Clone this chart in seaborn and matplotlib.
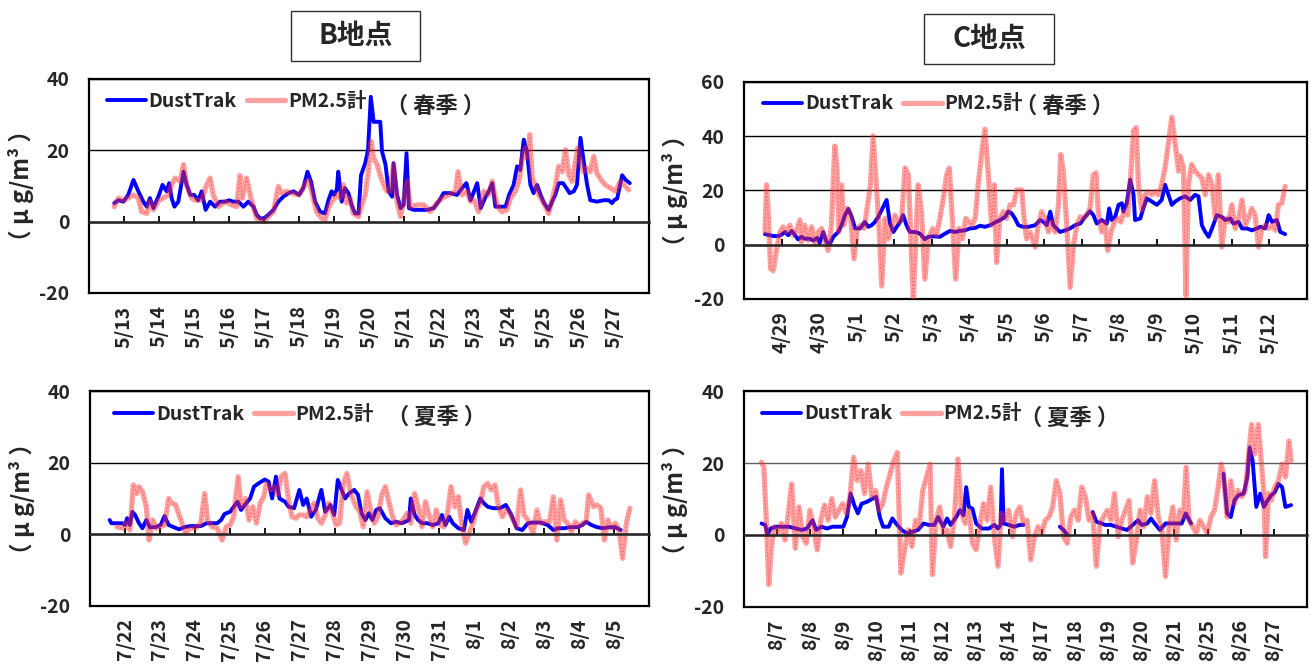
import numpy as np
import pandas as pd
import matplotlib
matplotlib.use("Agg")
import matplotlib.pyplot as plt
from matplotlib.lines import Line2D
from matplotlib.patches import Rectangle
import seaborn as sns

sns.set_theme(style="white")
plt.rcParams["font.family"] = ["Noto Sans CJK JP", "DejaVu Sans"]
plt.rcParams["axes.unicode_minus"] = False

# ---- day labels (category positions 0..n-1) ----
b_spring_days = ["5/13", "5/14", "5/15", "5/16", "5/17", "5/18", "5/19", "5/20",
                 "5/21", "5/22", "5/23", "5/24", "5/25", "5/26", "5/27"]
c_spring_days = ["4/29", "4/30", "5/1", "5/2", "5/3", "5/4", "5/5", "5/6",
                 "5/7", "5/8", "5/9", "5/10", "5/11", "5/12"]
b_summer_days = ["7/22", "7/23", "7/24", "7/25", "7/26", "7/27", "7/28", "7/29",
                 "7/30", "7/31", "8/1", "8/2", "8/3", "8/4", "8/5"]
c_summer_days = ["8/7", "8/8", "8/9", "8/10", "8/11", "8/12", "8/13", "8/14",
                 "8/17", "8/18", "8/19", "8/20", "8/21", "8/25", "8/26", "8/27"]

# ---- readings: (day position, µg/m3); None marks a gap in the record ----
b_spring_dust = [
    (-0.28, 5.2), (-0.16, 6), (-0.02, 5.6), (0.12, 7.5), (0.27, 11.7), (0.41, 8.5), (0.55, 5.6),
    (0.65, 4.2), (0.74, 6.6), (0.84, 3.8), (1.00, 7.5), (1.10, 10.3), (1.22, 8.5), (1.29, 10.8),
    (1.36, 6.6), (1.44, 4.2), (1.55, 5.6), (1.70, 14), (1.79, 10.3), (1.89, 7.5), (2.00, 7.5),
    (2.12, 6), (2.22, 8.5), (2.33, 3.3), (2.46, 5.6), (2.60, 4.2), (2.74, 5.6), (2.89, 5.6),
    (3.00, 6), (3.12, 5.6), (3.27, 5.6), (3.41, 4.2), (3.55, 5.6), (3.70, 4.2), (3.79, 1.9),
    (3.89, 0.9), (4.00, 0.9), (4.12, 1.9), (4.27, 3.3), (4.41, 5.6), (4.55, 7), (4.70, 8),
    (4.84, 8.5), (5.00, 7.5), (5.12, 9.4), (5.24, 14), (5.34, 11.3), (5.46, 5.6), (5.60, 2.8),
    (5.74, 2.3), (5.84, 6), (5.93, 8.5), (6.00, 7.5), (6.08, 9), (6.12, 14), (6.22, 5.6),
    (6.31, 9.4), (6.41, 8), (6.50, 4.7), (6.60, 2.3), (6.70, 2.3), (6.77, 13), (6.89, 16.4),
    (6.97, 20), (7.05, 35), (7.13, 28), (7.32, 28), (7.37, 19.7), (7.47, 16), (7.56, 8.5),
    (7.66, 7), (7.70, 16.4), (7.80, 7.5), (7.90, 3.8), (7.99, 4.7), (8.07, 19.2), (8.14, 3.8),
    (8.28, 3.3), (8.47, 3.3), (8.66, 3.3), (8.85, 3.8), (9.01, 6), (9.13, 8), (9.32, 8),
    (9.51, 7.5), (9.66, 9.4), (9.78, 10.8), (9.90, 6), (10.00, 8.5), (10.09, 10.8), (10.19, 3.8),
    (10.33, 7), (10.42, 8.5), (10.52, 10.8), (10.61, 4.2), (10.75, 4.2), (10.90, 4.2), (11.00, 7.5),
    (11.13, 10.3), (11.23, 15.5), (11.32, 14.5), (11.42, 23), (11.51, 19.7), (11.61, 10.3),
    (11.70, 8), (11.80, 10.3), (11.90, 7.5), (12.00, 5.2), (12.13, 3.3), (12.23, 5.6), (12.32, 7.5),
    (12.42, 10.8), (12.54, 10.8), (12.64, 9.4), (12.73, 8), (12.85, 8.5), (12.94, 10.3),
    (13.04, 23.5), (13.13, 17), (13.23, 10.3), (13.32, 6), (13.51, 5.6), (13.70, 6), (13.85, 6),
    (13.94, 5.2), (14.00, 6), (14.09, 6.5), (14.23, 13), (14.33, 11.7), (14.45, 10.8),
]
b_spring_pm = [
    (-0.28, 4.2), (-0.16, 6.6), (-0.02, 6), (0.12, 6.6), (0.27, 7.5), (0.41, 6.6), (0.50, 2.8),
    (0.65, 2.3), (0.74, 5.6), (0.84, 3.3), (1.00, 6), (1.12, 6.6), (1.27, 7.5), (1.36, 10.3),
    (1.46, 12.2), (1.60, 11.3), (1.70, 16), (1.79, 10.3), (1.93, 6.6), (2.03, 6), (2.22, 6),
    (2.36, 10.3), (2.46, 12.2), (2.55, 7.5), (2.70, 4.2), (2.89, 5.6), (3.08, 4.7), (3.22, 4.2),
    (3.31, 13), (3.38, 6.6), (3.50, 12.2), (3.65, 5.6), (3.79, 0.9), (3.89, 0.5), (4.00, 0),
    (4.12, 1.4), (4.27, 2.8), (4.41, 9.9), (4.50, 8), (4.65, 8.5), (4.79, 8), (5.00, 7.5),
    (5.17, 10.3), (5.27, 11.7), (5.36, 8.5), (5.50, 2.8), (5.65, 0.9), (5.74, 0.5), (5.84, 3.8),
    (5.93, 5.6), (6.08, 7.5), (6.17, 6.6), (6.27, 10.3), (6.36, 5.2), (6.46, 6.6), (6.55, 2.3),
    (6.70, 1.4), (6.79, 4.7), (6.89, 7.5), (6.98, 14), (7.06, 22.5), (7.13, 17.8), (7.23, 16),
    (7.32, 13), (7.42, 10.3), (7.51, 8.5), (7.60, 8.5), (7.70, 16), (7.80, 5.6), (7.90, 1.4),
    (7.99, 6), (8.09, 11.3), (8.18, 4.2), (8.37, 4.7), (8.56, 4.7), (8.75, 2.8), (8.94, 5.2),
    (9.09, 6.6), (9.28, 7.5), (9.47, 8.5), (9.54, 14), (9.66, 7.5), (9.80, 8.5), (9.90, 5.6),
    (10.00, 6), (10.13, 2.8), (10.28, 8.5), (10.42, 7.5), (10.52, 11.3), (10.61, 6.6), (10.70, 3.8),
    (10.80, 2.8), (10.94, 3.3), (11.04, 6.6), (11.18, 8.5), (11.28, 11.3), (11.37, 17), (11.47, 20.7),
    (11.51, 17.8), (11.59, 24.4), (11.66, 12.2), (11.75, 10.3), (11.85, 7.5), (11.99, 5.2),
    (12.13, 2.3), (12.23, 6), (12.33, 10.3), (12.42, 15.5), (12.52, 14), (12.61, 20.2), (12.71, 13),
    (12.80, 11.3), (12.90, 17), (12.96, 20.7), (13.04, 17), (13.13, 14), (13.23, 15), (13.32, 14),
    (13.42, 18.3), (13.51, 13.6), (13.66, 11.3), (13.75, 10.3), (13.90, 9.4), (14.04, 8.5),
    (14.18, 11.3), (14.28, 10.3), (14.42, 8.9),
]

c_spring_dust = [
    (-0.44, 3.9), (-0.31, 3.5), (-0.22, 3.2), (-0.09, 3.2), (0.00, 3.7), (0.09, 4.7), (0.18, 3.5),
    (0.27, 5.1), (0.36, 3.5), (0.44, 2.0), (0.53, 2.9), (0.62, 2.2), (0.76, 2.2), (0.84, 1.6),
    (0.95, 2.5), (1.02, 0.7), (1.11, 4.7), (1.20, 1.0), (1.29, 0.4), (1.38, 2.9), (1.51, 4.7),
    (1.60, 7.2), (1.69, 10.9), (1.78, 13.2), (1.87, 10.3), (1.96, 6.0), (2.09, 6.0), (2.22, 8.4),
    (2.31, 6.6), (2.40, 7.2), (2.49, 8.4), (2.58, 10.3), (2.67, 12.8), (2.76, 15.3), (2.80, 16.5),
    (2.89, 7.8), (2.98, 4.7), (3.07, 6.6), (3.16, 8.4), (3.24, 10.9), (3.33, 7.2), (3.42, 4.7),
    (3.56, 4.7), (3.69, 4.1), (3.82, 2.0), (3.91, 2.9), (4.04, 3.1), (4.22, 2.9), (4.36, 4.1),
    (4.49, 5.1), (4.62, 4.7), (4.76, 5.1), (4.89, 5.3), (5.02, 6.0), (5.16, 6.2), (5.29, 7.0),
    (5.42, 6.6), (5.56, 7.2), (5.69, 8.2), (5.82, 9.1), (5.96, 10.3), (6.04, 12.2), (6.13, 11.6),
    (6.22, 9.7), (6.31, 7.2), (6.44, 6.6), (6.58, 6.6), (6.76, 7.2), (6.89, 9.1), (6.98, 8.4),
    (7.07, 7.2), (7.16, 12.2), (7.24, 7.2), (7.33, 6.0), (7.42, 4.7), (7.56, 5.3), (7.69, 6.0),
    (7.82, 7.2), (7.96, 7.8), (8.09, 10.3), (8.22, 12.4), (8.31, 10.9), (8.40, 7.8), (8.53, 9.1),
    (8.67, 7.8), (8.73, 13.4), (8.80, 9.1), (8.89, 10.3), (8.98, 14.7), (9.07, 15.3), (9.11, 12.2),
    (9.20, 15.3), (9.29, 24.0), (9.38, 18.4), (9.42, 9.1), (9.56, 9.7), (9.64, 13.4), (9.73, 17.1),
    (9.87, 15.9), (10.00, 14.7), (10.13, 16.5), (10.22, 22.1), (10.31, 18.4), (10.40, 14.7),
    (10.49, 15.9), (10.62, 17.1), (10.76, 17.8), (10.89, 16.5), (11.02, 18.4), (11.11, 17.8),
    (11.20, 7.2), (11.29, 4.7), (11.38, 2.9), (11.47, 6.0), (11.60, 10.9), (11.73, 10.3),
    (11.82, 9.1), (11.96, 9.7), (12.04, 7.8), (12.18, 8.4), (12.27, 6.0), (12.40, 6.0), (12.53, 5.3),
    (12.67, 6.0), (12.76, 6.6), (12.89, 6.0), (12.98, 10.9), (13.07, 8.4), (13.20, 9.1),
    (13.29, 4.7), (13.42, 3.9),
]
c_spring_pm = [
    (-0.44, 4.7), (-0.40, 22.1), (-0.36, 13.4), (-0.29, -8.9), (-0.22, -9.6), (-0.13, -1.5),
    (-0.04, 4.7), (0.04, 6.6), (0.13, 4.7), (0.22, 7.2), (0.31, 3.5), (0.40, 5.3), (0.49, 9.1),
    (0.53, 1.0), (0.62, 7.2), (0.71, 1.6), (0.80, 6.6), (0.89, 0.4), (0.98, 4.7), (1.07, 6.0),
    (1.16, 1.6), (1.24, -2.1), (1.33, 7.2), (1.42, 36.4), (1.48, 28.3), (1.53, 4.7), (1.60, 22.1),
    (1.66, 7.2), (1.75, 13.4), (1.84, 10.9), (1.93, -5.2), (2.02, 6.0), (2.11, 7.2), (2.20, 6.0),
    (2.28, 13.4), (2.37, 22.1), (2.44, 40.1), (2.52, 23.4), (2.60, 6.0), (2.67, -15.2), (2.76, 9.7),
    (2.84, 2.2), (2.93, 6.0), (3.02, 10.9), (3.11, 8.4), (3.20, 9.1), (3.29, 28.3), (3.38, 25.8),
    (3.44, 4.7), (3.51, -20.7), (3.58, 2.2), (3.64, 22.1), (3.73, 12.2), (3.82, -12.7), (3.91, 2.2),
    (4.03, 6.0), (4.13, 3.5), (4.22, 9.7), (4.31, 17.1), (4.40, 25.8), (4.47, 28.3), (4.55, 9.7),
    (4.64, -12.7), (4.73, 6.0), (4.82, 2.2), (4.91, 9.7), (5.00, 8.4), (5.07, 7.2), (5.16, 9.7),
    (5.24, 22.1), (5.33, 33.3), (5.42, 42.6), (5.51, 25.8), (5.60, 7.2), (5.67, 22.1), (5.73, -6.5),
    (5.82, 9.7), (5.91, 12.2), (6.00, 9.7), (6.09, 14.7), (6.18, 14.7), (6.27, 20.2), (6.40, 20.2),
    (6.46, 10.0), (6.53, 2.2), (6.62, 4.7), (6.76, -0.9), (6.84, 7.2), (6.93, 12.2), (7.02, 9.7),
    (7.11, 4.7), (7.20, 8.4), (7.29, 4.7), (7.38, 14.7), (7.44, 33.3), (7.51, 27.1), (7.60, 7.2),
    (7.69, -15.8), (7.78, -0.2), (7.87, 7.2), (7.96, 10.3), (8.04, 9.7), (8.13, 10.9), (8.22, 13.4),
    (8.31, 25.8), (8.38, 26.5), (8.44, 12.2), (8.53, 4.7), (8.62, 8.4), (8.69, -2.1), (8.78, 4.7),
    (8.87, 8.4), (8.96, 9.7), (9.04, 8.4), (9.13, 12.2), (9.22, 10.9), (9.29, 22.1), (9.38, 42.0),
    (9.45, 43.2), (9.51, 22.1), (9.60, 12.8), (9.69, 18.4), (9.78, 19.6), (9.87, 18.4), (9.96, 19.6),
    (10.04, 18.4), (10.13, 22.1), (10.22, 28.3), (10.31, 37.6), (10.40, 47.0), (10.49, 37.0),
    (10.58, 27.1), (10.62, 32.7), (10.71, 28.3), (10.78, -18.9), (10.84, 22.1), (10.93, 29.6),
    (11.02, 27.1), (11.11, 25.8), (11.20, 24.6), (11.29, 18.4), (11.38, 25.8), (11.47, 22.1),
    (11.56, 9.7), (11.64, 25.8), (11.73, -0.9), (11.82, 9.7), (11.91, 8.4), (12.00, 14.7),
    (12.09, 6.0), (12.18, 9.7), (12.27, 16.5), (12.36, 7.2), (12.44, 9.7), (12.53, 13.4),
    (12.62, 10.9), (12.71, -0.9), (12.80, 6.0), (12.89, 7.2), (12.98, 6.0), (13.07, 7.2),
    (13.16, 5.3), (13.24, 14.7), (13.33, 15.3), (13.42, 21.5),
]

b_summer_dust = [
    (-0.44, 4.0), (-0.39, 3.1), (-0.23, 3.1), (-0.07, 3.1), (0.00, 2.6), (0.06, 4.5), (0.14, 2.6),
    (0.21, 6.3), (0.29, 5.4), (0.40, 3.1), (0.50, 1.7), (0.61, 4.0), (0.71, 2.0), (0.87, 2.0),
    (1.02, 2.6), (1.13, 5.1), (1.25, 2.6), (1.39, 2.0), (1.55, 1.4), (1.70, 2.0), (1.86, 2.3),
    (2.02, 2.3), (2.17, 2.3), (2.33, 3.1), (2.49, 3.1), (2.64, 3.1), (2.75, 4.0), (2.85, 5.7),
    (3.01, 6.3), (3.11, 7.7), (3.22, 9.1), (3.32, 6.8), (3.43, 8.2), (3.58, 10.0), (3.69, 13.3),
    (3.85, 14.4), (4.00, 15.3), (4.11, 14.7), (4.21, 10.0), (4.32, 16.1), (4.42, 10.0), (4.58, 9.1),
    (4.68, 7.7), (4.84, 7.3), (4.99, 12.4), (5.10, 8.2), (5.20, 10.0), (5.33, 4.9), (5.46, 6.8),
    (5.62, 12.4), (5.73, 6.3), (5.88, 8.2), (5.99, 5.4), (6.09, 15.2), (6.20, 12.4), (6.30, 10.0),
    (6.41, 11.4), (6.56, 12.4), (6.67, 11.0), (6.77, 5.9), (6.88, 4.0), (6.98, 5.9), (7.08, 4.0),
    (7.19, 6.8), (7.29, 7.3), (7.45, 4.5), (7.61, 3.1), (7.76, 3.5), (7.92, 3.1), (8.13, 4.0),
    (8.18, 10.0), (8.29, 5.4), (8.39, 4.0), (8.50, 3.1), (8.65, 3.1), (8.81, 2.6), (8.97, 3.1),
    (9.07, 5.4), (9.17, 2.6), (9.28, 4.9), (9.38, 3.1), (9.54, 1.7), (9.70, 1.2), (9.80, 6.8),
    (9.91, 3.5), (10.01, 5.9), (10.17, 10.0), (10.27, 8.7), (10.38, 7.7), (10.53, 7.3),
    (10.74, 7.3), (10.90, 8.2), (11.06, 5.4), (11.21, 1.7), (11.37, 1.2), (11.53, 3.1), (11.68, 3.3),
    (11.89, 3.3), (12.10, 2.6), (12.26, 1.2), (12.41, 1.7), (12.57, 1.7), (12.73, 2.0), (12.94, 2.0),
    (13.09, 2.6), (13.20, 3.5), (13.35, 2.6), (13.51, 2.0), (13.67, 1.7), (13.88, 2.0), (14.03, 2.0),
    (14.19, 1.2),
]
b_summer_pm = [
    (-0.23, 2.1), (-0.07, 1.7), (0.03, 3.1), (0.14, 1.2), (0.24, 13.8), (0.34, 11.4), (0.40, 13.3),
    (0.50, 11.9), (0.61, 7.7), (0.69, -1.6), (0.79, 4.0), (0.90, 1.7), (1.00, 2.1), (1.13, 2.6),
    (1.25, 10.0), (1.34, 8.7), (1.45, 8.2), (1.60, 4.0), (1.73, 0.3), (1.86, 1.7), (2.02, 1.7),
    (2.17, 3.1), (2.28, 11.4), (2.36, 4.0), (2.49, 2.1), (2.64, 1.7), (2.78, -1.6), (2.90, 2.1),
    (3.01, 2.6), (3.11, 4.9), (3.24, 16.1), (3.32, 7.7), (3.45, 10.0), (3.55, 4.0), (3.66, 7.7),
    (3.76, 3.1), (3.87, 8.7), (3.97, 10.5), (4.05, 14.2), (4.16, 12.4), (4.26, 13.3), (4.37, 11.0),
    (4.47, 16.1), (4.58, 17.0), (4.68, 9.6), (4.78, 4.9), (4.89, 4.5), (4.99, 5.4), (5.10, 5.4),
    (5.20, 4.9), (5.31, 6.8), (5.41, 8.7), (5.52, 4.5), (5.62, 3.1), (5.73, 5.4), (5.83, 8.7),
    (5.94, 5.9), (6.04, 2.6), (6.14, 3.1), (6.25, 14.2), (6.35, 17.0), (6.46, 11.4), (6.61, 7.7),
    (6.72, 6.3), (6.82, 2.1), (6.93, 11.9), (7.03, 6.8), (7.14, 3.1), (7.24, 4.9), (7.35, 11.0),
    (7.45, 13.3), (7.55, 9.1), (7.66, 4.9), (7.76, 2.6), (7.92, 3.5), (8.08, 5.9), (8.18, 3.1),
    (8.29, 11.4), (8.39, 7.7), (8.50, 2.1), (8.60, 9.1), (8.70, 5.4), (8.81, 2.1), (8.91, 6.8),
    (9.02, 2.6), (9.12, 2.1), (9.23, 5.9), (9.33, 13.3), (9.44, 7.7), (9.54, 10.5), (9.64, 2.6),
    (9.75, -2.5), (9.85, 0.3), (9.96, 3.1), (10.06, 6.8), (10.17, 8.7), (10.27, 13.3), (10.38, 14.2),
    (10.48, 12.4), (10.59, 13.8), (10.69, 7.7), (10.80, 4.9), (10.90, 6.8), (11.01, 5.9),
    (11.11, 4.0), (11.21, 2.1), (11.32, 12.4), (11.42, 5.4), (11.53, 4.0), (11.68, 0.3),
    (11.79, 6.8), (11.89, 3.1), (11.99, 3.5), (12.15, 3.5), (12.26, 10.5), (12.36, -1.6),
    (12.47, 9.6), (12.57, 4.0), (12.67, 3.1), (12.78, 0.7), (12.89, 3.5), (12.99, 2.1), (13.09, 3.1),
    (13.20, 3.5), (13.27, 11.0), (13.41, 7.7), (13.51, 8.2), (13.62, 7.3), (13.72, -1.6),
    (13.82, 4.0), (13.93, 1.7), (14.03, 3.1), (14.14, 1.2), (14.24, -6.7), (14.35, 3.1), (14.45, 7.3),
]

c_summer_dust = [
    (-0.47, 3.2), (-0.36, 2.8), (-0.29, 0.0), (-0.20, 1.8), (-0.03, 2.3), (0.13, 2.3), (0.35, 2.3),
    (0.57, 1.8), (0.74, 1.4), (0.90, 1.8), (1.07, 4.1), (1.18, 1.4), (1.34, 2.3), (1.51, 1.8),
    (1.67, 2.3), (1.84, 2.3), (2.00, 2.3), (2.11, 5.0), (2.22, 11.5), (2.33, 8.3), (2.44, 6.0),
    (2.55, 8.7), (2.71, 9.2), (2.88, 10.1), (2.99, 10.6), (3.10, 5.0), (3.20, 2.3), (3.37, 2.3),
    (3.48, 4.6), (3.59, 3.2), (3.76, 1.4), (3.92, 0.5), (4.09, 0.9), (4.25, 1.4), (4.42, 3.2),
    (4.58, 2.8), (4.75, 2.8), (4.86, 5.0), (5.02, 2.3), (5.13, 4.6), (5.24, 2.8), (5.41, 5.0),
    (5.52, 6.9), (5.63, 5.5), (5.71, 13.3), (5.79, 7.8), (5.90, 7.3), (6.01, 3.2), (6.18, 1.8),
    (6.40, 1.8), (6.56, 2.8), (6.67, 1.8), (6.75, 2.8), (6.79, 18.3), (6.84, 3.2), (7.00, 2.8),
    (7.16, 2.3), (7.33, 2.8), (7.44, 2.8), (7.50, None),
    (8.54, 2.3), (8.65, 1.4), (8.76, 0.0), (9.00, None),
    (9.53, 6.4), (9.64, 3.7), (9.80, 3.2), (9.91, 2.8), (10.08, 2.8), (10.24, 2.3), (10.41, 1.8),
    (10.57, 1.4), (10.74, 2.8), (10.90, 4.1), (11.01, 2.8), (11.18, 3.2), (11.29, 4.6), (11.40, 3.2),
    (11.56, 1.4), (11.73, 3.2), (11.89, 3.2), (12.05, 3.2), (12.22, 3.2), (12.34, 6.0), (12.50, 3.2),
    (13.00, None),
    (13.48, 17.0), (13.59, 6.0), (13.70, 5.0), (13.81, 9.6), (13.92, 11.0), (14.09, 11.5),
    (14.20, 16.1), (14.27, 24.3), (14.36, 20.6), (14.47, 7.8), (14.59, 11.5), (14.70, 7.8),
    (14.81, 9.6), (14.92, 11.0), (15.03, 11.9), (15.14, 14.2), (15.25, 13.3), (15.35, 7.8),
    (15.52, 8.3),
]
c_summer_pm = [
    (-0.47, 20.2), (-0.40, 18.8), (-0.31, 0.5), (-0.25, -13.8), (-0.18, -4.1), (-0.09, 2.3),
    (0.02, 0.5), (0.13, 3.2), (0.24, -1.4), (0.35, 6.9), (0.44, 14.2), (0.55, -3.7), (0.66, 7.8),
    (0.77, -0.5), (0.88, -2.3), (0.99, 6.9), (1.10, 2.3), (1.21, -4.1), (1.32, 4.1), (1.43, 8.3),
    (1.54, 4.1), (1.65, 10.1), (1.76, 5.0), (1.87, 6.9), (1.98, 8.7), (2.09, 6.0), (2.20, 10.6),
    (2.31, 21.6), (2.42, 15.1), (2.53, 17.9), (2.64, 11.5), (2.75, 19.7), (2.86, 10.6), (2.97, 12.4),
    (3.08, 6.9), (3.19, 8.7), (3.30, 13.3), (3.41, 17.0), (3.52, 20.6), (3.63, 22.9), (3.74, -10.6),
    (3.85, -4.1), (3.96, 1.4), (4.07, -3.2), (4.18, 4.1), (4.29, 2.3), (4.40, 12.4), (4.51, 16.1),
    (4.62, 19.7), (4.69, -11.0), (4.80, 4.1), (4.91, 7.8), (5.02, 0.5), (5.13, 1.4), (5.24, -3.2),
    (5.35, 4.1), (5.46, 21.1), (5.57, 6.0), (5.68, 3.2), (5.79, 6.9), (5.90, -2.3), (6.01, -4.1),
    (6.12, 2.3), (6.23, 8.7), (6.34, 4.1), (6.45, 13.3), (6.56, -0.5), (6.67, -8.7), (6.77, 6.0),
    (6.88, 4.1), (6.99, 6.9), (7.11, -0.5), (7.22, 6.0), (7.33, 7.8), (7.44, 3.2), (7.55, 4.1),
    (7.66, -6.9), (7.77, -0.5), (7.88, 2.3), (7.99, 0.5), (8.10, 4.1), (8.21, 5.0), (8.32, 7.8),
    (8.43, 15.1), (8.54, 11.5), (8.65, -0.5), (8.76, -2.3), (8.87, 5.0), (8.98, 6.9), (9.09, 4.1),
    (9.20, 13.3), (9.31, 10.6), (9.42, 4.1), (9.53, 6.0), (9.64, -8.7), (9.75, 3.2), (9.86, 5.0),
    (9.97, 6.9), (10.08, 4.1), (10.19, 11.5), (10.30, -0.5), (10.41, 4.1), (10.52, 6.9), (10.63, 9.6),
    (10.74, -7.8), (10.85, -1.4), (10.96, 6.9), (11.07, 2.3), (11.18, 10.6), (11.29, 6.0),
    (11.40, 15.1), (11.51, 5.0), (11.62, 1.4), (11.73, -11.5), (11.84, 2.3), (11.95, 7.8),
    (12.05, -1.4), (12.16, 6.9), (12.27, 5.0), (12.35, 18.8), (12.44, 4.1), (12.55, 2.3), (12.66, 0.5),
    (12.77, 4.1), (12.88, 2.3), (12.99, 0.5), (13.10, 5.0), (13.21, 6.9), (13.32, 13.3), (13.41, 19.7),
    (13.48, 17.0), (13.59, 5.0), (13.70, 15.1), (13.81, 8.7), (13.92, 12.4), (14.03, 10.6),
    (14.14, 12.4), (14.25, 23.4), (14.33, 30.7), (14.42, 22.5), (14.53, 30.7), (14.62, 20.6),
    (14.70, 11.5), (14.75, -6.0), (14.84, 11.5), (14.92, 9.6), (15.03, 13.3), (15.14, 15.1),
    (15.25, 19.7), (15.35, 16.1), (15.46, 26.1), (15.52, 20.6),
]

DUST_COLOR = "#0000FF"
PM_COLOR = "#FF3030"
FONT = ["Noto Sans CJK JP", "DejaVu Sans"]
DUST_LW = 2.8
PM_LW = 3.8


def to_frame(pairs):
    df = pd.DataFrame([(d, np.nan if v is None else v) for d, v in pairs], columns=["day", "val"])
    df["seg"] = df["val"].isna().cumsum()
    return df.dropna()


def draw_pm(df, ax):
    # pink band with a dotted red texture on top
    sns.lineplot(data=df, x="day", y="val", units="seg", estimator=None,
                 color=PM_COLOR, alpha=0.45, lw=PM_LW, ax=ax, legend=False,
                 solid_joinstyle="round")
    sns.lineplot(data=df, x="day", y="val", units="seg", estimator=None,
                 color="#FF0000", alpha=0.35, lw=1.0, ls=(0, (1, 1.5)), ax=ax, legend=False)


fig = plt.figure(figsize=(13.11, 6.66), dpi=100)

panels = [
    # rect, day labels, dust, pm, y range, season, legend anchor, season anchor, grid colour
    ([0.0679, 0.5601, 0.4272, 0.3213], b_spring_days, b_spring_dust, b_spring_pm,
     (-20, 40), "（ 春季 ）", (0.032, 0.897), (0.530, 0.874), "black"),
    ([0.5675, 0.5511, 0.4294, 0.3258], c_spring_days, c_spring_dust, c_spring_pm,
     (-20, 60), "（ 春季 ）", (0.034, 0.899), (0.482, 0.889), "black"),
    ([0.0687, 0.0901, 0.4264, 0.3228], b_summer_days, b_summer_dust, b_summer_pm,
     (-20, 40), "（ 夏季 ）", (0.043, 0.893), (0.532, 0.879), "black"),
    ([0.5675, 0.0886, 0.4294, 0.3243], c_summer_days, c_summer_dust, c_summer_pm,
     (-20, 40), "（ 夏季 ）", (0.032, 0.894), (0.490, 0.875), "#606060"),
]

for rect, days, dust, pm, (ylo, yhi), season, leg_xy, season_xy, gcol in panels:
    ax = fig.add_axes(rect)
    n = len(days)

    sns.lineplot(data=to_frame(dust), x="day", y="val", units="seg", estimator=None,
                 color=DUST_COLOR, lw=DUST_LW, ax=ax, legend=False, solid_joinstyle="round")
    draw_pm(to_frame(pm), ax)

    ax.set_xlim(-1, n)
    ax.set_ylim(ylo, yhi)
    ax.set_xlabel("")
    ax.set_ylabel("（ μ g/m³ ）", fontsize=17, fontweight="bold", family=FONT)
    ax.yaxis.label.set_verticalalignment("center")
    ax.yaxis.set_label_coords(-0.122, 0.5)

    yt = list(range(ylo, yhi + 1, 20))
    ax.set_yticks(yt)
    ax.set_yticklabels([str(v) for v in yt], fontsize=14, fontweight="bold")
    ax.tick_params(axis="y", length=0, pad=14)
    ax.yaxis.grid(True, color=gcol, lw=1.0)
    ax.xaxis.grid(False)

    # category axis crosses at zero: ticks sit on the zero line
    ax.spines["bottom"].set_position(("data", 0))
    ax.spines["bottom"].set_linewidth(1.8)
    ax.set_xticks(range(n))
    ax.tick_params(axis="x", direction="in", length=4.5, width=1.3, color="black",
                   labelbottom=False, bottom=True)
    for side in ("left", "top", "right"):
        ax.spines[side].set_color("black")
        ax.spines[side].set_linewidth(1.6)

    # day labels along the bottom edge of the plot
    sec = ax.secondary_xaxis("bottom")
    sec.set_xticks(range(n))
    sec.set_xticklabels(days, rotation=90, fontsize=14, fontweight="bold")
    sec.tick_params(length=0, pad=9)
    sec.spines["bottom"].set_color("black")
    sec.spines["bottom"].set_linewidth(1.6)

    handles = [Line2D([], [], color=DUST_COLOR, lw=DUST_LW),
               Line2D([], [], color=PM_COLOR, alpha=0.45, lw=PM_LW)]
    ax.legend(handles, ["DustTrak", "PM2.5計"], loc="center left", bbox_to_anchor=leg_xy,
              ncol=2, frameon=False, handlelength=2.0, handletextpad=0.15,
              columnspacing=0.5, borderpad=0, borderaxespad=0,
              prop={"size": 14, "weight": "bold", "family": FONT})
    ax.text(*season_xy, season, transform=ax.transAxes, fontsize=16, fontweight="bold",
            va="center", ha="left", family=FONT)

# site titles in boxes
for label, (x0, y0, w, h) in [("B地点", (291, 11, 129, 50)), ("C地点", (924, 14, 130, 50))]:
    fig.add_artist(Rectangle((x0 / 1311, 1 - (y0 + h) / 666), w / 1311, h / 666,
                             transform=fig.transFigure, fill=False, ec="#303030", lw=1.0))
    fig.text((x0 + w / 2) / 1311, 1 - (y0 + h / 2) / 666, label, ha="center", va="center",
             fontsize=20, fontweight="bold", family=FONT)

fig.savefig("out.png", dpi=100)
